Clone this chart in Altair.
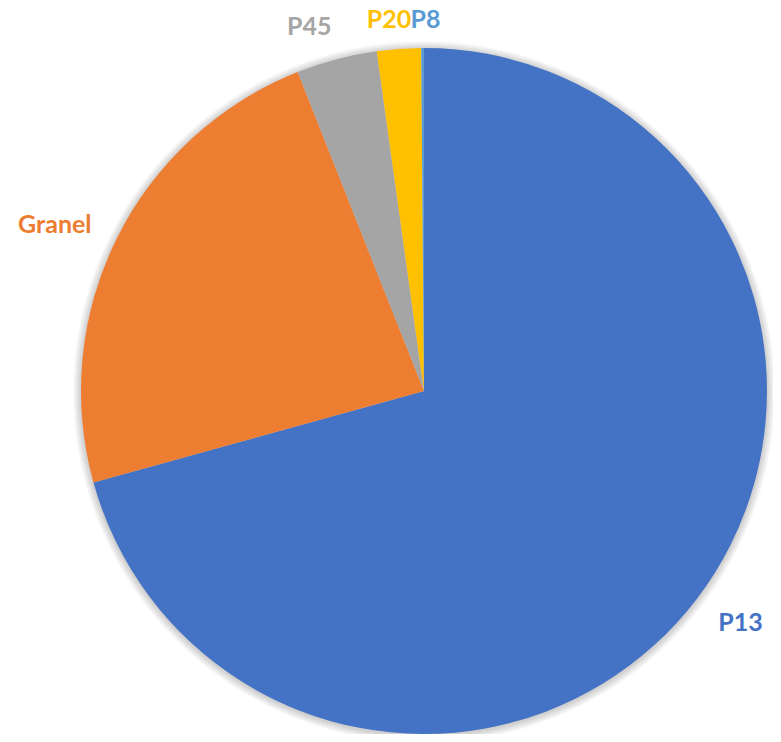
import altair as alt
import pandas as pd

categories = ["P13", "Granel", "P45", "P20", "P8"]
values = [70.7, 23.3, 3.8, 2.07, 0.13]
colors = ["#4472C4", "#ED7D31", "#A5A5A5", "#FFC000", "#5B9BD5"]

df = pd.DataFrame({"cat": categories, "val": values, "idx": list(range(len(categories)))})

CX, CY, R = 416, 383, 343
LABEL_R = 380
# per-label layout nudges: (dx, dy, align)
nudges = {
    "P13": (14, 2, "center"),
    "Granel": (-29, 3, "center"),
    "P45": (-18, 3, "center"),
    "P20": (15, 8, "right"),
    "P8": (-12, 9, "left"),
}

color_scale = alt.Scale(domain=categories, range=colors)
theta = alt.Theta("val:Q", stack=True, scale=alt.Scale(range=[0, 6.283185307]))
order = alt.Order("idx:Q", sort="ascending")

base = alt.Chart(df)

shadow_layers = []
for k in range(1, 9):
    shadow_layers.append(
        alt.Chart(pd.DataFrame({"a": [0]})).mark_arc(
            theta=0, theta2=6.283185307, radius=R + k, color="#000000", opacity=0.025
        ).encode(x=alt.value(CX), y=alt.value(CY + 1))
    )

pie = base.mark_arc(radius=R).encode(
    theta=theta,
    color=alt.Color("cat:N", scale=color_scale, legend=None),
    order=order,
    x=alt.value(CX),
    y=alt.value(CY),
)

text_layers = []
for c in categories:
    dx, dy, al = nudges[c]
    text_layers.append(
        base.mark_text(
            radius=LABEL_R, font="Lato", fontWeight="bold", fontSize=25,
            align=al, baseline="middle", dx=dx, dy=dy
        ).encode(
            theta=theta,
            order=order,
            text="cat:N",
            color=alt.Color("cat:N", scale=color_scale, legend=None),
            x=alt.value(CX),
            y=alt.value(CY),
            opacity=alt.condition(alt.datum.cat == c, alt.value(1), alt.value(0)),
        )
    )

chart = alt.layer(*shadow_layers, pie, *text_layers).properties(
    width=765, height=726, autosize=alt.AutoSizeParams(type="none"), padding=0
).configure_view(strokeWidth=0)

chart.save("out.html", embed_options={"renderer": "svg", "actions": False})
